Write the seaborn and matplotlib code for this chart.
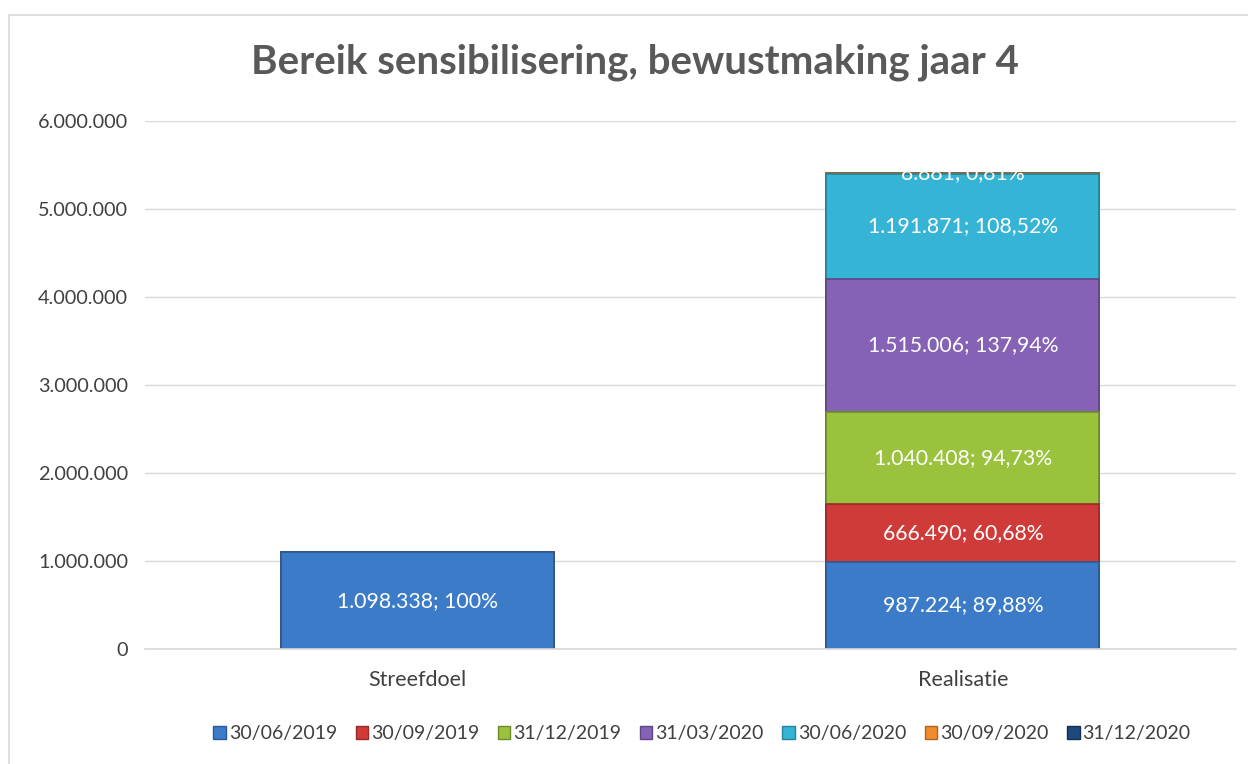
import matplotlib
matplotlib.use("Agg")
import matplotlib.pyplot as plt
import matplotlib.patches as mpatches
import numpy as np
import pandas as pd
import seaborn as sns

# data
categories = ["Streefdoel", "Realisatie"]
periods = ["30/06/2019", "30/09/2019", "31/12/2019", "31/03/2020",
           "30/06/2020", "30/09/2020", "31/12/2020"]
streefdoel = [1098338, 0, 0, 0, 0, 0, 0]
realisatie = [987224, 666490, 1040408, 1515006, 1191871, 8881, 0]
target = 1098338

colors = ["#3C7BC8", "#CF3B38", "#9AC23D", "#8562B6", "#36B4D5", "#F28A2E", "#1F497D"]
edges = ["#2A5A96", "#962A28", "#6E8C2A", "#5E4585", "#25849D", "#B0631F", "#14314F"]

sns.set_theme(style="white")
plt.rcParams["font.family"] = ["Lato", "DejaVu Sans"]

df = pd.DataFrame({"cat": np.repeat(categories, len(periods)),
                   "period": periods * 2,
                   "value": streefdoel + realisatie})
df["cum"] = df.groupby("cat")["value"].cumsum()
df["bottom"] = df["cum"] - df["value"]

fig = plt.figure(figsize=(12.48, 7.64), dpi=100)
ax = fig.add_axes([0.116, 0.1505, 0.874, 0.691])

# draw cumulative heights from top layer down so the stack shows
for i in reversed(range(len(periods))):
    sub = df[df["period"] == periods[i]]
    sns.barplot(data=sub, x="cat", y="cum", order=categories, color=colors[i],
                width=0.5, edgecolor=edges[i], linewidth=1.2, saturation=1, ax=ax)

# white labels
for _, r in df.iterrows():
    if r["value"] <= 0:
        continue
    pct = r["value"] / target * 100
    ptxt = f"{pct:.0f}%" if abs(pct - round(pct)) < 1e-9 else f"{pct:.2f}%".replace(".", ",")
    txt = f"{int(r['value']):,}".replace(",", ".") + "; " + ptxt
    xi = categories.index(r["cat"])
    ax.text(xi, r["bottom"] + r["value"] / 2, txt, ha="center", va="center",
            color="white", fontsize=15.3)

ax.set_ylim(0, 6000000)
ax.set_yticks(np.arange(0, 6000001, 1000000))
ax.set_yticklabels([f"{int(v):,}".replace(",", ".") for v in ax.get_yticks()],
                   fontsize=14.3, color="#404040")
ax.tick_params(axis="x", labelsize=15.5, labelcolor="#404040", length=0, pad=15)
ax.tick_params(axis="y", length=0, pad=12)
ax.set_xlabel("")
ax.set_ylabel("")
ax.set_axisbelow(True)
ax.yaxis.grid(True, color="#D9D9D9", linewidth=1)
for s in ["top", "right", "left"]:
    ax.spines[s].set_visible(False)
ax.spines["bottom"].set_color("#D9D9D9")
ax.set_xlim(-0.5, 1.5)

fig.text(0.509, 0.918, "Bereik sensibilisering, bewustmaking jaar 4", ha="center",
         va="center", fontsize=29, fontweight="bold", color="#595959")

handles = [mpatches.Patch(facecolor=c, edgecolor=e) for c, e in zip(colors, edges)]
fig.legend(handles, periods, loc="center", bbox_to_anchor=(0.5625, 0.04), ncol=7,
           frameon=False, fontsize=14, handlelength=0.65, handleheight=0.65,
           handletextpad=0.15, columnspacing=0.95, labelcolor="#404040")

fig.patches.append(mpatches.Rectangle((0.007, -0.1), 1.2, 1.08, transform=fig.transFigure,
                                      fill=False, edgecolor="#D9D9D9", linewidth=1.2))

fig.savefig("out.png", dpi=100)
